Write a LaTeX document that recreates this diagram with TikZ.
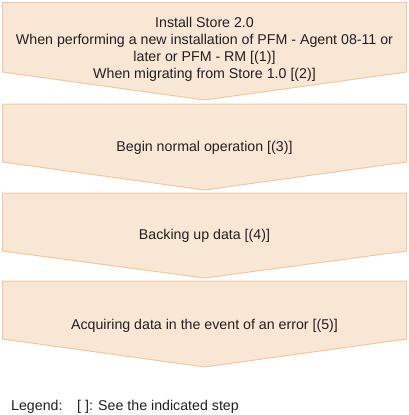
\documentclass[tikz,border=0pt]{standalone}
\usepackage{fontspec}
\setmainfont{Liberation Sans}
\usepackage{xcolor}
\definecolor{stepfill}{RGB}{249,231,214}
\definecolor{stepline}{RGB}{240,200,162}
\definecolor{steptext}{RGB}{35,31,32}

\begin{document}
\begin{tikzpicture}[x=1pt,y=-1pt,
  chevron/.style={fill=stepfill,draw=stepline,line width=1pt,line join=miter},
  steplabel/.style={text=steptext,font=\fontsize{14.2}{17}\selectfont,align=center,inner sep=0pt}]
  \useasboundingbox (0,0) rectangle (409,415);
  % step chevrons
  \draw[chevron] (2.5,2.5) -- (406.5,2.5) -- (406.5,72) -- (204.5,100) -- (2.5,72) -- cycle;
  \draw[chevron] (2.5,104) -- (406.5,104) -- (406.5,162) -- (204.5,190) -- (2.5,162) -- cycle;
  \draw[chevron] (2.5,193) -- (406.5,193) -- (406.5,251) -- (204.5,278) -- (2.5,251) -- cycle;
  \draw[chevron] (2.5,281) -- (406.5,281) -- (406.5,339) -- (204.5,367) -- (2.5,339) -- cycle;
  % step texts
  \node[steplabel] (install) at (204.5,49.5) {Install Store 2.0\\When performing a new installation of PFM - Agent 08-11 or\\later or PFM - RM [(1)]\\When migrating from Store 1.0 [(2)]};
  \node[steplabel] (normal) at (204.5,148) {Begin normal operation [(3)]};
  \node[steplabel] (backup) at (204.5,236) {Backing up data [(4)]};
  \node[steplabel] (error) at (204.5,325.5) {Acquiring data in the event of an error [(5)]};
  % legend
  \node[steplabel,anchor=base west] (legend) at (11,410) {Legend:};
  \node[steplabel,anchor=base west] (legendtext) at (77,410) {[ ]: See the indicated step};
\end{tikzpicture}
\end{document}
